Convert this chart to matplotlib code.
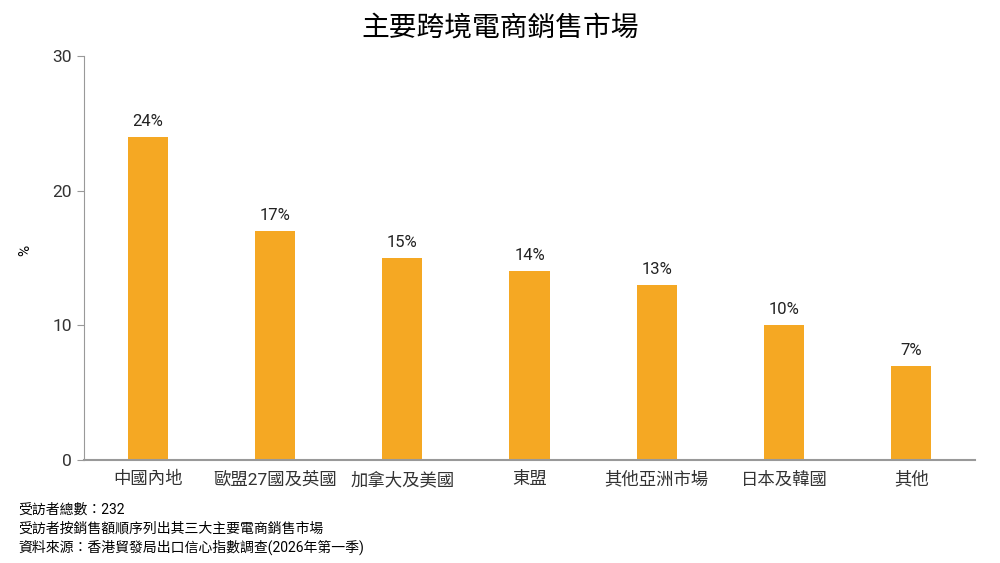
import numpy as np
from matplotlib import pyplot as plt

plt.rcParams['font.family'] = ['Roboto', 'Noto Sans CJK TC', 'DejaVu Sans']

markets = ['中國內地', '歐盟27國及英國', '加拿大及美國', '東盟', '其他亞洲市場', '日本及韓國', '其他']
share = [24, 17, 15, 14, 13, 10, 7]

fig = plt.figure(figsize=(10, 5.63), dpi=100)
ax = fig.add_axes([0.084, 0.183, 0.891, 0.7175])

x = np.arange(len(markets))
ax.bar(x, share, width=0.315, color='#F5A823', zorder=2)
for xi, v in zip(x, share):
    ax.text(xi, v + 0.6, f'{v}%', ha='center', va='bottom', fontsize=12, color='#222222')

ax.set_xlim(-0.5, len(markets) - 0.5)
ax.set_ylim(0, 30)
ax.set_yticks([0, 10, 20, 30])
ax.set_xticks(x)
ax.set_xticklabels(markets, fontsize=12.5, color='#333333')
ax.tick_params(axis='x', length=0, pad=8)
ax.tick_params(axis='y', length=5, color='#999999', labelsize=12.5, labelcolor='#333333')

for s in ['top', 'right']:
    ax.spines[s].set_visible(False)
ax.spines['left'].set_color('#999999')
ax.spines['bottom'].set_color('#999999')
ax.spines['bottom'].set_linewidth(1.5)

fig.text(0.025, 0.555, '%', rotation=90, ha='center', va='center', fontsize=11)
fig.text(0.5, 1 - 28 / 563, '主要跨境電商銷售市場', ha='center', va='center', fontsize=20)

notes = ['受訪者總數：232',
         '受訪者按銷售額順序列出其三大主要電商銷售市場',
         '資料來源：香港貿發局出口信心指數調查(2026年第一季)']
for i, n in enumerate(notes):
    fig.text(0.018, 1 - (510 + i * 18.5) / 563, n, ha='left', va='center', fontsize=10,
             family=['Roboto', 'Noto Sans CJK TC'])

fig.savefig('out.png', dpi=100)
